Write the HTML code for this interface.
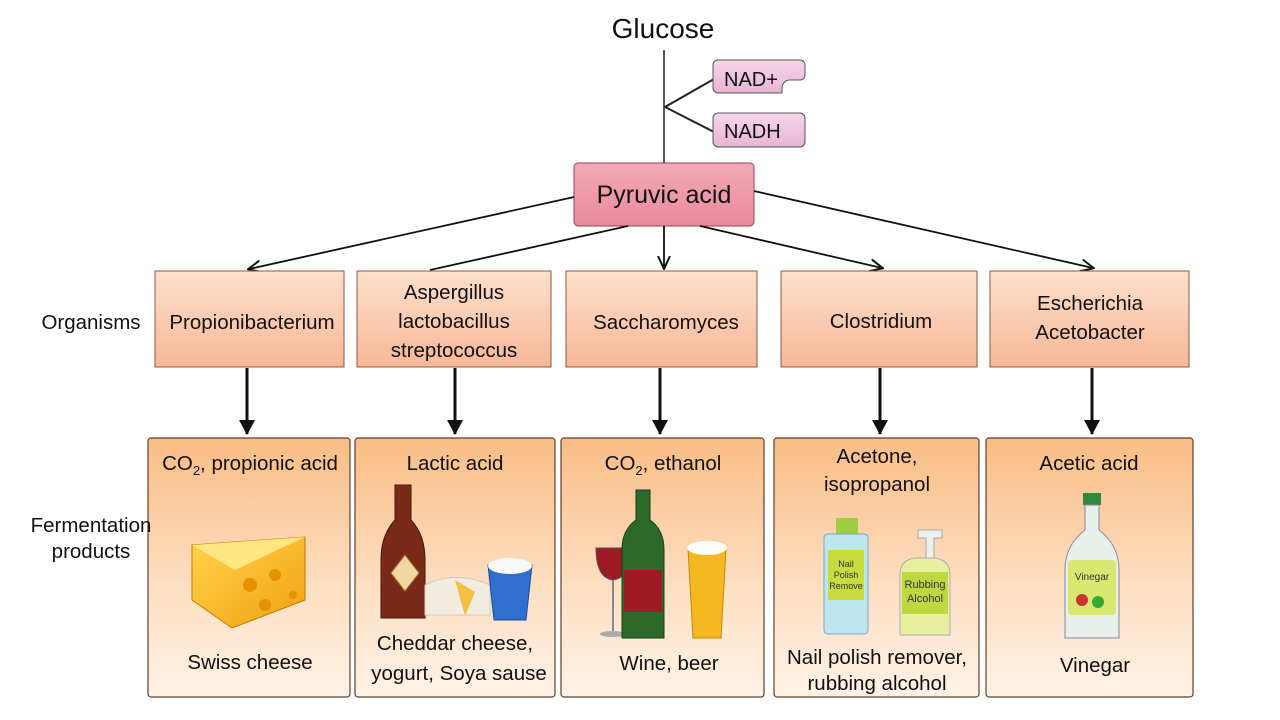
<!DOCTYPE html>
<html><head><meta charset="utf-8"><style>
body{margin:0;background:#fff;}
svg{display:block;font-family:"Liberation Sans","DejaVu Sans",sans-serif;}
</style></head><body>
<svg width="1280" height="720" viewBox="0 0 1280 720">
<defs>
<linearGradient id="pk" x1="0" y1="0" x2="0" y2="1"><stop offset="0" stop-color="#f4a9b7"/><stop offset="1" stop-color="#e88a9c"/></linearGradient>
<linearGradient id="pl" x1="0" y1="0" x2="0" y2="1"><stop offset="0" stop-color="#f6d6ea"/><stop offset="1" stop-color="#e8b5d3"/></linearGradient>
<linearGradient id="org" x1="0" y1="0" x2="0" y2="1"><stop offset="0" stop-color="#fde0cc"/><stop offset="1" stop-color="#f7b797"/></linearGradient>
<linearGradient id="prd" x1="0" y1="0" x2="0" y2="1"><stop offset="0" stop-color="#f9bd85"/><stop offset="0.6" stop-color="#fde0c4"/><stop offset="1" stop-color="#fff2e6"/></linearGradient>
<linearGradient id="ch" x1="0" y1="0" x2="1" y2="1"><stop offset="0" stop-color="#ffd34d"/><stop offset="1" stop-color="#f2a010"/></linearGradient>
<marker id="ah" markerWidth="14" markerHeight="14" refX="12" refY="7" orient="auto" markerUnits="userSpaceOnUse"><path d="M0,1 L13,7 L0,13" fill="none" stroke="#111" stroke-width="2"/></marker>
<marker id="ab" markerWidth="18" markerHeight="18" refX="14" refY="9" orient="auto" markerUnits="userSpaceOnUse"><path d="M0,1 L15,9 L0,17 z" fill="#111"/></marker>
</defs>
<text x="663" y="38" font-size="28" text-anchor="middle" fill="#111">Glucose</text>
<line x1="664" y1="50" x2="664" y2="163" stroke="#222" stroke-width="1.5"/>
<polyline points="714,79 665,107 714,132" fill="none" stroke="#222" stroke-width="2"/>
<path d="M718,60 H800 a5,5 0 0 1 5,5 V75 a5,5 0 0 1 -5,5 H790 a8,8 0 0 0 -8,8 V93 H718 a5,5 0 0 1 -5,-5 V65 a5,5 0 0 1 5,-5z" fill="url(#pl)" stroke="#555" stroke-width="1"/>
<text x="724" y="86" font-size="20" fill="#111">NAD+</text>
<rect x="713" y="113" width="92" height="34" rx="5" fill="url(#pl)" stroke="#555"/>
<text x="724" y="138" font-size="20" fill="#111">NADH</text>
<rect x="574" y="163" width="180" height="63" rx="4" fill="url(#pk)" stroke="#8a4a55"/>
<text x="664" y="203" font-size="25" text-anchor="middle" fill="#111">Pyruvic acid</text>
<g stroke="#111" stroke-width="1.8" fill="none">
<line x1="574" y1="197" x2="249" y2="269" marker-end="url(#ah)"/>
<line x1="628" y1="226" x2="430" y2="270" />
<line x1="664" y1="226" x2="664" y2="268" marker-end="url(#ah)"/>
<line x1="700" y1="226" x2="882" y2="268" marker-end="url(#ah)"/>
<line x1="754" y1="191" x2="1093" y2="268" marker-end="url(#ah)"/>
</g>
<g stroke="#8a5a40" stroke-width="1" fill="url(#org)">
<rect x="155" y="271" width="189" height="96"/>
<rect x="357" y="271" width="194" height="96"/>
<rect x="566" y="271" width="191" height="96"/>
<rect x="781" y="271" width="196" height="96"/>
<rect x="990" y="271" width="199" height="96"/>
</g>
<g font-size="20.5" fill="#111" text-anchor="middle">
<text x="91" y="329">Organisms</text>
<text x="252" y="329">Propionibacterium</text>
<text x="454" y="299">Aspergillus</text>
<text x="454" y="328">lactobacillus</text>
<text x="454" y="357">streptococcus</text>
<text x="666" y="329">Saccharomyces</text>
<text x="881" y="328">Clostridium</text>
<text x="1090" y="310">Escherichia</text>
<text x="1090" y="339">Acetobacter</text>
</g>
<g stroke="#111" stroke-width="3">
<line x1="247" y1="368" x2="247" y2="434" marker-end="url(#ab)"/>
<line x1="455" y1="368" x2="455" y2="434" marker-end="url(#ab)"/>
<line x1="660" y1="368" x2="660" y2="434" marker-end="url(#ab)"/>
<line x1="880" y1="368" x2="880" y2="434" marker-end="url(#ab)"/>
<line x1="1092" y1="368" x2="1092" y2="434" marker-end="url(#ab)"/>
</g>
<g stroke="#5a4030" stroke-width="1.2" fill="url(#prd)">
<rect x="148" y="438" width="202" height="259" rx="3"/>
<rect x="355" y="438" width="200" height="259" rx="3"/>
<rect x="561" y="438" width="203" height="259" rx="3"/>
<rect x="774" y="438" width="205" height="259" rx="3"/>
<rect x="986" y="438" width="207" height="259" rx="3"/>
</g>
<g font-size="20.5" fill="#111" text-anchor="middle">
<text x="91" y="532">Fermentation</text>
<text x="91" y="558">products</text>
<text x="250" y="470">CO<tspan font-size="13" dy="5">2</tspan><tspan dy="-5">, propionic acid</tspan></text>
<text x="455" y="470">Lactic acid</text>
<text x="663" y="470">CO<tspan font-size="13" dy="5">2</tspan><tspan dy="-5">, ethanol</tspan></text>
<text x="877" y="463">Acetone,</text>
<text x="877" y="491">isopropanol</text>
<text x="1089" y="470">Acetic acid</text>
<text x="250" y="669">Swiss cheese</text>
<text x="455" y="650">Cheddar cheese,</text>
<text x="459" y="680">yogurt, Soya sause</text>
<text x="669" y="670">Wine, beer</text>
<text x="877" y="664">Nail polish remover,</text>
<text x="877" y="690">rubbing alcohol</text>
<text x="1095" y="672">Vinegar</text>
</g>
<path d="M192,545 L305,537 L305,600 L232,628 L192,600z" fill="url(#ch)" stroke="#c47a00"/>
<path d="M192,545 L305,537 L235,570z" fill="#ffe680"/>
<g fill="#e49200"><circle cx="250" cy="585" r="7"/><circle cx="275" cy="575" r="6"/><circle cx="265" cy="605" r="6"/><circle cx="293" cy="595" r="4"/></g>
<path d="M395,485 h16 v35 q14,15 14,40 v58 h-44 v-58 q0,-25 14,-40z" fill="#7a2a18" stroke="#4a1508"/>
<path d="M405,555 l14,18 -14,18 -14,-18z" fill="#f0d9a0" stroke="#a07030"/>
<path d="M425,585 q30,-15 65,0 v30 h-65z" fill="#f3ece0" stroke="#ccb"/>
<path d="M455,580 l20,12 -10,24z" fill="#f5c040"/>
<path d="M488,565 h44 l-6,55 h-32z" fill="#2f6fd0" stroke="#1a4aa0"/>
<ellipse cx="510" cy="566" rx="22" ry="8" fill="#f8f8f8"/>
<path d="M596,548 h34 q0,30 -17,32 q-17,-2 -17,-32z" fill="#9e1a25" stroke="#555"/>
<line x1="613" y1="580" x2="613" y2="632" stroke="#888" stroke-width="2"/>
<ellipse cx="613" cy="634" rx="13" ry="3" fill="#aaa"/>
<path d="M636,490 h14 v30 q14,10 14,30 v88 h-42 v-88 q0,-20 14,-30z" fill="#2d6a2a" stroke="#173f15"/>
<rect x="624" y="570" width="38" height="42" fill="#9e1a25"/>
<path d="M688,548 h38 l-5,90 h-28z" fill="#f5b820" stroke="#c48a00"/>
<ellipse cx="707" cy="548" rx="20" ry="7" fill="#fff"/>
<rect x="836" y="518" width="22" height="16" fill="#9fcf40"/>
<rect x="824" y="534" width="44" height="100" rx="4" fill="#bfe6f0" stroke="#7ab"/>
<rect x="828" y="550" width="36" height="50" fill="#c8dc40"/>
<text x="846" y="567" font-size="9" text-anchor="middle" fill="#333">Nail</text>
<text x="846" y="578" font-size="9" text-anchor="middle" fill="#333">Polish</text>
<text x="846" y="589" font-size="9" text-anchor="middle" fill="#333">Remove</text>
<path d="M918,530 h24 v8 h-8 v20 h-8 v-20 h-8z" fill="#eee" stroke="#aaa"/>
<path d="M900,575 q0,-15 15,-17 h20 q15,2 15,17 v60 h-50z" fill="#e8f0a0" stroke="#aab"/>
<rect x="902" y="572" width="46" height="42" fill="#c0d840"/>
<text x="925" y="588" font-size="11" text-anchor="middle" fill="#333">Rubbing</text>
<text x="925" y="602" font-size="11" text-anchor="middle" fill="#333">Alcohol</text>
<rect x="1083" y="493" width="18" height="12" fill="#2e8a3a"/>
<path d="M1085,505 h14 v25 q20,15 20,40 v68 h-54 v-68 q0,-25 20,-40z" fill="#e8f0ec" stroke="#889"/>
<rect x="1068" y="560" width="48" height="55" rx="4" fill="#d8e870"/>
<text x="1092" y="580" font-size="10" text-anchor="middle" fill="#333">Vinegar</text>
<circle cx="1082" cy="600" r="6" fill="#c33"/><circle cx="1098" cy="602" r="6" fill="#3a3"/>
</svg>
</body></html>
